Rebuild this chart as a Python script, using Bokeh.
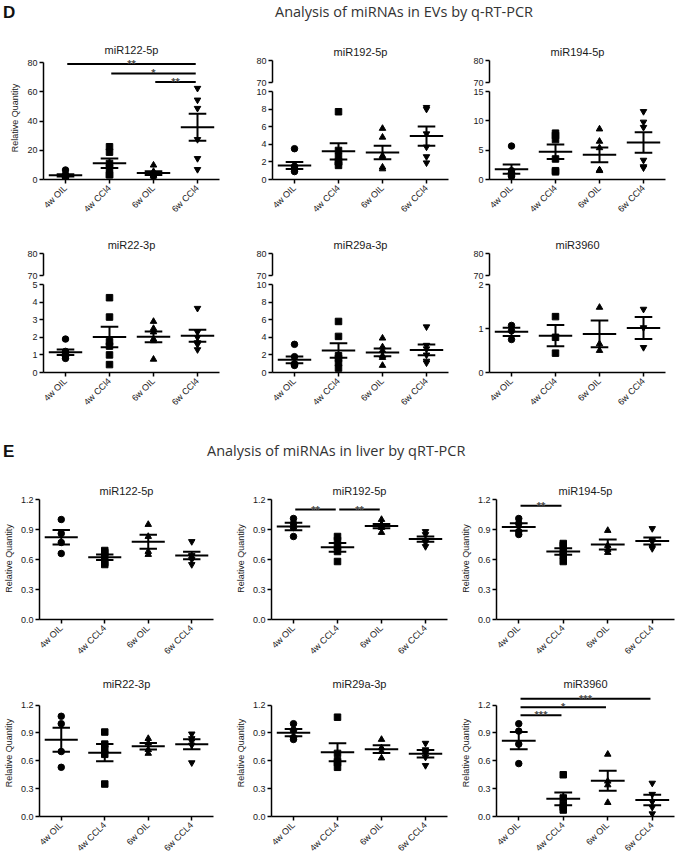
import math
import numpy as np
from bokeh.plotting import figure
from bokeh.layouts import column, row
from bokeh.models import Range1d, FixedTicker, Div, Label, ColumnDataSource
from bokeh.core.properties import value
from bokeh.embed import file_html
from bokeh.resources import INLINE

FONT = "Liberation Sans"
TEXT = "#1a1a1a"

ev_groups = ["4w OIL", "4w CCl4", "6w OIL", "6w CCl4"]
liver_groups = ["4w OIL", "4w CCL4", "6w OIL", "6w CCL4"]
group_markers = ["circle", "square", "triangle", "inverted_triangle"]

# ---- EVs (q-RT-PCR), relative quantity, one list per group ----
ev_mir122_5p = [
    [6.5, 3.5, 2.5, 2.0, 1.5, 1.0],
    [22.4, 18.7, 11.0, 8.0, 3.4, 3.2],
    [9.8, 5.5, 4.5, 3.0, 2.5, 1.0],
    [62.4, 54.4, 48.7, 27.4, 14.4, 6.9],
]
ev_mir192_5p = [
    [3.5, 1.5, 1.3, 1.2, 1.1, 0.9],
    [7.7, 3.3, 2.6, 2.0, 2.0, 1.6],
    [5.8, 4.8, 2.7, 2.5, 1.4, 1.2],
    [8.2, 8.0, 5.2, 3.7, 2.6, 1.9],
]
ev_mir194_5p = [
    [5.7, 1.5, 1.2, 1.0, 0.7, 0.5],
    [7.9, 7.5, 6.8, 3.5, 1.5, 1.3],
    [8.6, 6.5, 5.4, 1.6, 1.5, 1.6],
    [11.6, 9.8, 8.9, 3.3, 2.2, 2.0],
]
ev_mir22_3p = [
    [1.9, 1.2, 1.1, 1.0, 0.9, 0.8],
    [4.25, 3.15, 1.75, 1.5, 1.0, 0.45],
    [2.9, 2.5, 2.3, 1.9, 1.8, 0.75],
    [3.65, 2.3, 2.0, 1.7, 1.6, 1.3],
]
ev_mir29a_3p = [
    [3.2, 1.8, 1.0, 0.95, 0.9, 0.8],
    [5.8, 4.1, 1.9, 1.6, 1.1, 0.5],
    [3.9, 2.9, 2.5, 1.9, 1.7, 0.8],
    [5.2, 3.1, 2.7, 2.0, 1.3, 1.1],
]
ev_mir3960 = [
    [1.07, 0.95, 0.75],
    [1.27, 0.80, 0.44],
    [1.48, 0.65, 0.50],
    [1.44, 1.02, 0.57],
]

# ---- Liver (qRT-PCR) ----
liver_mir122_5p = [
    [1.0, 0.86, 0.77, 0.66],
    [0.69, 0.67, 0.63, 0.57, 0.55],
    [0.95, 0.83, 0.68, 0.65],
    [0.78, 0.64, 0.63, 0.60, 0.55],
]
liver_mir192_5p = [
    [1.01, 0.96, 0.92, 0.83],
    [0.83, 0.79, 0.73, 0.68, 0.58],
    [1.0, 0.95, 0.93, 0.92, 0.87],
    [0.88, 0.85, 0.79, 0.77, 0.73],
]
liver_mir194_5p = [
    [1.01, 0.96, 0.88, 0.85],
    [0.76, 0.74, 0.68, 0.64, 0.58],
    [0.89, 0.74, 0.70, 0.67],
    [0.91, 0.80, 0.78, 0.73, 0.71],
]
liver_mir22_3p = [
    [1.08, 1.0, 0.70, 0.53],
    [0.91, 0.78, 0.73, 0.67, 0.35],
    [0.84, 0.79, 0.72, 0.68],
    [0.89, 0.84, 0.81, 0.77, 0.58],
]
liver_mir29a_3p = [
    [1.0, 0.93, 0.85, 0.83],
    [1.07, 0.68, 0.60, 0.58, 0.53],
    [0.83, 0.74, 0.70, 0.63],
    [0.79, 0.72, 0.68, 0.64, 0.55],
]
liver_mir3960 = [
    [1.0, 0.92, 0.78, 0.57],
    [0.45, 0.20, 0.13, 0.10, 0.07],
    [0.67, 0.38, 0.34, 0.15],
    [0.36, 0.24, 0.16, 0.10, 0.03],
]

# significance brackets: (group a, group b, height, label)
sig_ev_mir122 = [(0, 3, 79.0, "**"), (1, 3, 72.5, "*"), (2, 3, 66.7, "**")]
sig_liver_mir192 = [(0, 1, 1.10, "**"), (1, 2, 1.10, "**")]
sig_liver_mir194 = [(0, 1, 1.137, "**")]
sig_liver_mir3960 = [(0, 1, 1.09, "***"), (0, 2, 1.176, "*"), (0, 3, 1.269, "***")]

ticks_ev_mir122 = [0, 20, 40, 60, 80]
ticks_ev_mir192 = [0, 2, 4, 6, 8, 10]
ticks_ev_mir194 = [0, 5, 10, 15]
ticks_ev_mir22 = [0, 1, 2, 3, 4, 5]
ticks_ev_mir29a = [0, 2, 4, 6, 8, 10]
ticks_ev_mir3960 = [0, 1, 2]
ticks_break_top = [70, 80]
ticks_liver = [0.0, 0.3, 0.6, 0.9, 1.2]

# ---------------- layout geometry (pixels) ----------------
EV_COLS = [dict(w=226, left=43, fw=176), dict(w=226, left=46, fw=176), dict(w=226, left=37, fw=176)]
LV_COLS = [dict(w=226, left=39, fw=174), dict(w=226, left=45, fw=176), dict(w=226, left=44, fw=178)]
EV_ROW = dict(h=193, top_h=56, top_border=30, seg_h=22, bot_top=3, bot_bottom=44, cont_top=26)
LV_ROWS = [dict(h=197, top=27, bottom=48, gap=2, standoff=1),
           dict(h=192, top=22, bottom=40, gap=16, standoff=0)]


def style(p, yticks, bounds, ylabel, show_x=True, groups=None, fmt=None):
    p.outline_line_color = None
    p.xgrid.visible = False
    p.ygrid.visible = False
    yax = p.yaxis[0]
    yax.ticker = FixedTicker(ticks=yticks)
    yax.bounds = bounds
    yax.axis_line_width = 1.5
    yax.major_tick_line_width = 1.5
    yax.major_tick_in = 0
    yax.major_tick_out = 4
    yax.minor_tick_line_color = None
    yax.major_label_text_font = FONT
    yax.major_label_text_font_size = "9px"
    yax.major_label_text_color = TEXT
    yax.major_label_standoff = 2
    if fmt:
        yax.major_label_overrides = {t: fmt % t for t in yticks}
    if ylabel:
        yax.axis_label = ylabel
        yax.axis_label_text_font = FONT
        yax.axis_label_text_font_size = "9px"
        yax.axis_label_text_font_style = "normal"
        yax.axis_label_text_color = TEXT
        yax.axis_label_standoff = 4
    if show_x:
        xax = p.xaxis[0]
        xax.ticker = FixedTicker(ticks=[1, 2, 3, 4])
        xax.major_label_overrides = {i + 1: g for i, g in enumerate(groups)}
        xax.major_label_orientation = math.pi / 4
        xax.axis_line_width = 1.5
        xax.major_tick_line_width = 1.5
        xax.major_tick_in = 0
        xax.major_tick_out = 4
        xax.minor_tick_line_color = None
        xax.major_label_text_font = FONT
        xax.major_label_text_font_size = "9px"
        xax.major_label_text_color = TEXT
        xax.major_label_standoff = 3


def new_fig(col, height, top, frame_h, y0, y1, title=None, standoff=2, show_x=True):
    right = col["w"] - col["left"] - col["fw"]
    bottom = height - top - frame_h
    p = figure(width=col["w"], height=height, x_range=Range1d(0.5, 4.5), y_range=Range1d(y0, y1),
               output_backend="svg", toolbar_location=None,
               min_border_left=col["left"], min_border_right=right,
               min_border_top=top, min_border_bottom=bottom,
               x_axis_location="below" if show_x else None)
    if title:
        p.title.text = title
        p.title.align = "center"
        p.title.text_font = FONT
        p.title.text_font_size = "11px"
        p.title.text_font_style = "normal"
        p.title.text_color = TEXT
        p.title.standoff = standoff
        p.title.offset = -10
    return p


def draw_groups(p, data):
    xs, ys, mk = [], [], []
    for i, vals in enumerate(data):
        xs += [i + 1] * len(vals)
        ys += list(vals)
        mk += [group_markers[i]] * len(vals)
    src = ColumnDataSource(dict(x=xs, y=ys, m=mk))
    p.scatter("x", "y", marker="m", source=src, size=6.5, color="black")
    cx = np.arange(1, len(data) + 1, dtype=float)
    means = np.array([np.mean(v) for v in data])
    sems = np.array([np.std(v, ddof=1) / math.sqrt(len(v)) for v in data])
    p.segment(cx - 0.38, means, cx + 0.38, means, color="black", line_width=2)
    p.segment(cx, means - sems, cx, means + sems, color="black", line_width=2)
    for s in (-1, 1):
        p.segment(cx - 0.2, means + s * sems, cx + 0.2, means + s * sems, color="black", line_width=2)


def draw_sig(p, sig):
    if not sig:
        return
    x0 = [a + 1 + 0.04 for a, b, h, t in sig]
    x1 = [b + 1 - 0.04 for a, b, h, t in sig]
    hs = [h for a, b, h, t in sig]
    p.segment(x0, hs, x1, hs, color="black", line_width=2)
    p.text([(a + b) / 2 + 1 for a, b, h, t in sig], hs, text=[t for a, b, h, t in sig],
           text_align="center", text_baseline="alphabetic", text_font=value(FONT),
           text_font_size="11px", text_font_style="bold", text_color="#4d4d4d")


def ev_panel(col, title, data, yticks, broken=True, sig=None):
    r = EV_ROW
    if not broken:
        frame_h = r["h"] - r["cont_top"] - r["bot_bottom"]
        gap = 6
        y_end = yticks[-1] * frame_h / (frame_h - gap)
        p = new_fig(col, r["h"], r["cont_top"], frame_h, 0, y_end, title, standoff=2)
        style(p, yticks, (0, yticks[-1]), "Relative Quantity", groups=ev_groups)
        draw_groups(p, data)
        draw_sig(p, sig)
        return p
    seg_h = r["seg_h"]
    pt = new_fig(col, r["top_h"], r["top_border"], seg_h, ticks_break_top[0], ticks_break_top[-1],
                 title, standoff=5, show_x=False)
    style(pt, ticks_break_top, (ticks_break_top[0], ticks_break_top[-1]), None, show_x=False)
    bh = r["h"] - r["top_h"]
    frame_h = bh - r["bot_top"] - r["bot_bottom"]
    gap = 2
    ppu = (frame_h - gap) / yticks[-1]
    pb = new_fig(col, bh, r["bot_top"], frame_h, 0, frame_h / ppu)
    style(pb, yticks, (0, yticks[-1]), None, groups=ev_groups)
    draw_groups(pb, data)
    # y-axis title centred on the whole broken axis
    xppu = col["fw"] / 4.0
    total_span = frame_h + r["bot_top"] + (r["top_h"] - r["top_border"])
    center_px = total_span / 2.0 - 2
    pb.add_layout(Label(x=0.5 - 21 / xppu, y=center_px / ppu, text="Relative Quantity", angle=math.pi / 2,
                        text_align="center", text_baseline="middle", text_font=FONT,
                        text_font_size="9px", text_color=TEXT))
    return column(pt, pb, spacing=0)


def liver_panel(col, rgeom, title, data, sig=None):
    frame_h = rgeom["h"] - rgeom["top"] - rgeom["bottom"]
    y_end = ticks_liver[-1] * frame_h / (frame_h - rgeom["gap"])
    p = new_fig(col, rgeom["h"], rgeom["top"], frame_h, 0, y_end, title, standoff=rgeom["standoff"])
    style(p, ticks_liver, (0, ticks_liver[-1]), "Relative Quantity", groups=liver_groups, fmt="%.1f")
    draw_groups(p, data)
    draw_sig(p, sig)
    return p


def header(letter, title, height, letter_top, title_left, title_top):
    html = (
        f'<div style="position:relative;width:678px;height:{height}px;">'
        f'<span style="position:absolute;left:3px;top:{letter_top}px;font-family:\'{FONT}\';'
        f'font-weight:bold;font-size:17px;color:#111;">{letter}</span>'
        f'<span style="position:absolute;left:{title_left}px;top:{title_top}px;font-family:\'Open Sans\';'
        f'font-size:14.5px;color:#333;white-space:nowrap;">{title}</span></div>'
    )
    return Div(text=html, width=678, height=height, margin=0)


hd = header("D", "Analysis of miRNAs in EVs by q-RT-PCR", 30, 1, 275, 2)
row1 = row(
    ev_panel(EV_COLS[0], "miR122-5p", ev_mir122_5p, ticks_ev_mir122, broken=False, sig=sig_ev_mir122),
    ev_panel(EV_COLS[1], "miR192-5p", ev_mir192_5p, ticks_ev_mir192),
    ev_panel(EV_COLS[2], "miR194-5p", ev_mir194_5p, ticks_ev_mir194),
    spacing=0,
)
row2 = row(
    ev_panel(EV_COLS[0], "miR22-3p", ev_mir22_3p, ticks_ev_mir22),
    ev_panel(EV_COLS[1], "miR29a-3p", ev_mir29a_3p, ticks_ev_mir29a),
    ev_panel(EV_COLS[2], "miR3960", ev_mir3960, ticks_ev_mir3960),
    spacing=0,
)
he = header("E", "Analysis of miRNAs in liver by qRT-PCR", 54, 24, 207, 25)
row3 = row(
    liver_panel(LV_COLS[0], LV_ROWS[0], "miR122-5p", liver_mir122_5p),
    liver_panel(LV_COLS[1], LV_ROWS[0], "miR192-5p", liver_mir192_5p, sig_liver_mir192),
    liver_panel(LV_COLS[2], LV_ROWS[0], "miR194-5p", liver_mir194_5p, sig_liver_mir194),
    spacing=0,
)
row4 = row(
    liver_panel(LV_COLS[0], LV_ROWS[1], "miR22-3p", liver_mir22_3p),
    liver_panel(LV_COLS[1], LV_ROWS[1], "miR29a-3p", liver_mir29a_3p),
    liver_panel(LV_COLS[2], LV_ROWS[1], "miR3960", liver_mir3960, sig_liver_mir3960),
    spacing=0,
)

layout = column(hd, row1, row2, he, row3, row4, spacing=0)
open("out.html", "w").write(file_html(layout, INLINE))
